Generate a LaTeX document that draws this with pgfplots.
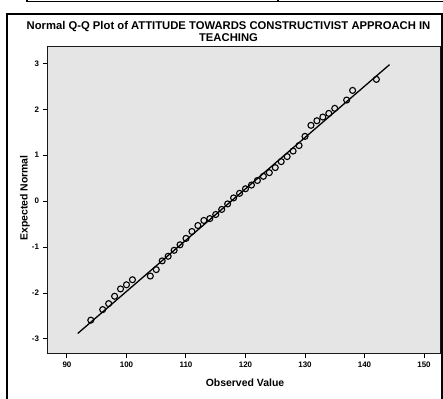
\documentclass[border=0pt]{standalone}
\usepackage{fontspec}
\setmainfont{Liberation Sans}
\usepackage{pgfplots}
\pgfplotsset{compat=1.18}
\pgfplotstableread{
x y
94 -2.59
96 -2.36
97 -2.23
98 -2.07
99 -1.91
100 -1.82
101 -1.71
104 -1.63
105 -1.49
106 -1.30
107 -1.20
108 -1.07
109 -0.95
110 -0.81
111 -0.66
112 -0.53
113 -0.42
114 -0.38
115 -0.29
116 -0.18
117 -0.06
118 0.07
119 0.17
120 0.27
121 0.35
122 0.45
123 0.54
124 0.62
125 0.73
126 0.86
127 0.97
128 1.09
129 1.21
130 1.41
131 1.65
132 1.75
133 1.83
134 1.91
135 2.02
137 2.20
138 2.41
142 2.65
}\qqdata
\begin{document}
\begin{tikzpicture}[x=1bp,y=1bp]
\useasboundingbox (0,0) rectangle (443,398);
\fill[white] (0,0) rectangle (443,398);
\draw[line width=1.5bp] (27,396.5) -- (443,396.5);
\draw[line width=1.5bp] (27,398) -- (27,395.8);
\draw[line width=1.5bp] (278,398) -- (278,395.8);
\draw[line width=2bp] (7,-2) -- (7,384) -- (442,384) -- (442,-2);
\begin{axis}[
  at={(47bp,45bp)}, anchor=south west, scale only axis,
  width=393bp, height=306bp,
  xmin=86.64, xmax=152.69, ymin=-3.305, ymax=3.355,
  axis background/.style={fill=black!10},
  axis line style={line width=1bp, black!90},
  xtick={90,100,...,150}, ytick={-3,-2,...,3},
  tick align=outside, xtick pos=bottom, ytick pos=left,
  major tick length=4.5bp,
  tick style={line width=1bp, black},
  /pgf/number format/assume math mode=true,
  ticklabel style={font=\bfseries\fontsize{8}{9}\selectfont},
  xticklabel style={yshift=-0.5bp},
  clip=false,
]
\addplot[black, line width=1.3bp] coordinates {(91.8,-2.88) (144.2,2.97)};
\addplot[only marks, mark=o, mark size=3bp, mark options={line width=1.1bp, black}] table[x=x,y=y] {\qqdata};
\end{axis}
\node[font=\bfseries\fontsize{11.3}{12}\selectfont, align=center] at (228.5,366.5) {Normal Q-Q Plot of ATTITUDE TOWARDS CONSTRUCTIVIST APPROACH IN\\TEACHING};
\node[font=\bfseries\fontsize{10.5}{12}\selectfont, rotate=90] at (25,200) {Expected Normal};
\node[font=\bfseries\fontsize{10.5}{12}\selectfont] at (245,15) {Observed Value};
\end{tikzpicture}
\end{document}
